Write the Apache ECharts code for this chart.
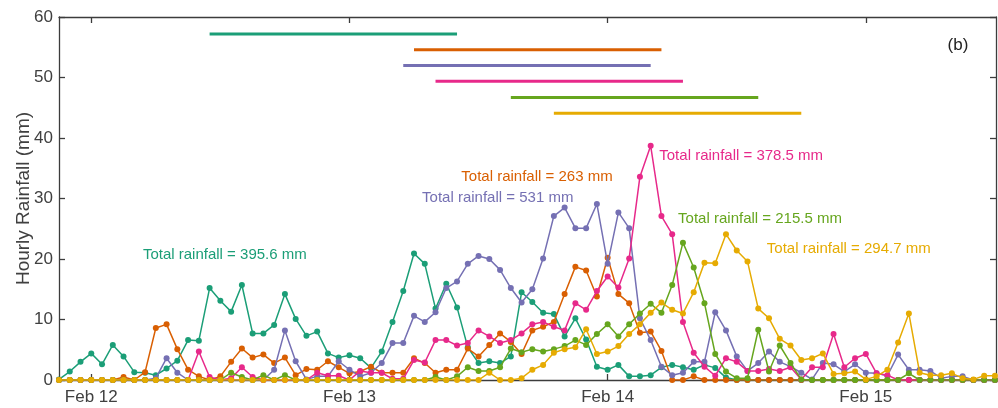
<!DOCTYPE html>
<html>
<head>
<meta charset="utf-8">
<script src="https://cdn.jsdelivr.net/npm/echarts@6/dist/echarts.min.js"></script>
<style>
html,body{margin:0;padding:0;background:#fff;}
#chart{width:998px;height:408px;}
</style>
</head>
<body>
<div id="chart"></div>
<script>
// Hours relative to Feb 12 00:00 (first reading at Feb 11 21:00)
const hourStart = -3;
const tickHours = [0, 24, 48, 72];
const tickLabels = ['Feb 12', 'Feb 13', 'Feb 14', 'Feb 15'];

const seriesNames = ['S1', 'S2', 'S3', 'S4', 'S5', 'S6'];
const colors = ['#1b9e77', '#d95f02', '#7570b3', '#e7298a', '#66a61e', '#e6ab02'];

const teal = [0.1,1.4,3.0,4.4,2.6,5.8,3.9,1.3,1.2,0.8,1.9,3.2,6.6,6.5,
  15.2,13.1,11.3,15.7,7.7,7.7,9.1,14.2,10.1,7.3,8.0,4.4,3.7,4.1,3.6,2.0,
  4.7,9.6,14.7,20.9,19.2,11.8,15.9,12.0,5.4,2.8,3.1,2.8,3.9,14.5,
  12.9,11.1,10.9,7.2,10.2,6.7,2.2,1.7,2.5,0.6,0.6,0.8,2.1,2.5,2.1,1.7,2.5,2.0,0.4,
  0,0,0,0,0,0,0,0,0,0,0,0,0,0,0,0,0,0,0,0,0,0,0,0,0];
const orange = [0,0,0,0,0,0,0.5,0,1.3,8.6,9.2,5.1,1.7,0.6,0,
  0.6,3.0,5.2,3.7,4.2,2.8,3.7,0.8,1.8,1.7,3.1,2.1,1.1,1.4,2.2,
  1.2,1.2,1.2,3.6,2.8,1.2,1.7,1.7,5.2,3.9,5.8,7.7,6.3,4.3,
  8.2,8.8,9.6,14.2,18.7,18.1,13.8,20.2,14.2,12.7,7.8,8.0,4.8,0,0,0.6,
  0,0,0,0,0,0,0,0,0,0,0,0,0,0,0,0,0,0,0,0,0,0,0,0,0,0,0,0];
const purple = [0,0,0,0,0,0,0,0,0,0.3,3.6,1.2,0,0,0,0,0,0,0,0,
  1.7,8.2,3.1,0.1,0.6,0.6,3.1,1.7,0.6,1.2,
  2.8,6.1,6.1,10.6,9.6,11.2,15.2,16.3,19.2,20.5,20.0,18.2,15.2,12.8,
  15.0,20.1,27.1,28.5,25.1,25.1,29.1,19.2,27.7,25.1,
  10.2,6.6,2.2,0.8,1.2,3.0,3.0,11.2,8.2,3.9,1.5,2.8,4.7,3.0,2.2,1.2,0.1,2.8,
  2.6,1.4,2.6,1.2,1.1,0.7,4.2,1.7,1.7,1.5,0.3,0.6,0.6,0,0,0];
const pink = [0,0,0,0,0,0,0,0,0,0,0,0,0,4.7,0.5,0,0.3,2.1,0.5,0,0,0,0,0,
  1.2,0.7,0.7,0,1.5,1.2,1.2,0.2,0.2,3.3,2.9,6.6,6.6,5.7,6.1,8.2,7.2,6.1,6.6,7.7,
  9.2,9.6,8.8,8.2,12.7,11.6,14.7,17.1,15.3,20.1,33.6,38.7,27.1,24.1,9.6,4.5,
  2.2,0.7,3.6,3.0,1.5,1.5,1.8,1.5,2.1,0.1,2.1,2.1,7.6,2.1,3.6,4.3,1.1,0.8,
  0,0,0,0,0,0,0,0,0,0];
const green = [0,0,0,0,0,0,0,0,0,0,0,0,0,0,0,0,1.2,0.5,0,0.8,0,0.8,
  0,0,0,0,0,0,0,0,0,0,0,0,0,0.5,0,0.6,2.1,1.5,1.5,2.1,5.2,4.6,
  5.1,4.7,5.1,5.6,6.6,5.8,7.6,9.2,7.2,9.2,11.0,12.6,11.1,15.7,22.7,18.6,12.7,4.3,1.4,
  0.3,0.3,8.3,1.4,5.7,2.8,0.1,0,0,0,0,0,0,0,0,0,1.1,0,0,0,0,0,0,0,0];
const yellow = [0,0,0,0,0,0,0,0,0,0,0,0,0,0,0,0,0,0,0,0,0,0,0,0,0,0,0,0,0,0,
  0,0,0,0,0,0,0,0,0,0,1.2,0,0,0.3,1.7,2.5,4.5,5.1,5.4,8.4,4.3,4.7,5.6,7.6,
  9.2,11.1,12.8,11.6,11.0,14.5,19.4,19.3,24.1,21.4,19.6,11.8,10.2,6.8,5.7,3.3,3.6,4.4,
  1.0,1.1,1.4,0.1,0.6,1.7,6.2,11.0,1.2,0.8,0.8,1.1,0.3,0.1,0.7,0.7];

// Duration bars (hours) and their levels (mm)
const barStart = [11, 30, 29, 32, 39, 43];
const barEnd = [34, 53, 52, 55, 62, 66];
const barLevel = [57.2, 54.6, 52.0, 49.4, 46.7, 44.1];

const totalLabels = ['Total rainfall = 395.6 mm', 'Total rainfall = 263 mm', 'Total rainfall = 531 mm',
  'Total rainfall = 378.5 mm', 'Total rainfall = 215.5 mm', 'Total rainfall = 294.7 mm'];
</script>
<script>
const values = [teal, orange, purple, pink, green, yellow];
const labelAnchors = [[4.8, 20.7], [34.4, 33.5], [30.75, 30.1], [52.8, 37.0], [54.55, 26.7], [62.8, 21.6]];
const panelAnchor = [79.6, 55.4];

const chart = echarts.init(document.getElementById('chart'), null, {renderer: 'canvas'});
const axisColor = '#3c3c3c';
const textColor = '#404040';
const font = '"Liberation Sans", Arial, sans-serif';
const xMin = -3, xMax = 84.1;

const series = [];
values.forEach((arr, i) => {
  series.push({
    name: seriesNames[i], type: 'line', xAxisIndex: 0, yAxisIndex: 0,
    data: arr.map((v, k) => [hourStart + k, v]),
    symbol: 'circle', symbolSize: 6, showSymbol: true,
    lineStyle: {color: colors[i], width: 1.5},
    itemStyle: {color: colors[i]},
    z: 2 + i, silent: true
  });
});
barStart.forEach((s, i) => {
  series.push({
    type: 'line', xAxisIndex: 0, yAxisIndex: 0,
    data: [[s, barLevel[i]], [barEnd[i], barLevel[i]]],
    symbol: 'none', lineStyle: {color: colors[i], width: 3}, z: 10, silent: true
  });
});

const option = {
  animation: false,
  backgroundColor: '#fff',
  grid: {left: 59, right: 2, top: 17, bottom: 28, containLabel: false, outerBoundsMode: 'none'},
  xAxis: [{
    type: 'value', min: xMin, max: xMax, position: 'bottom',
    axisLine: {show: true, onZero: false, lineStyle: {color: axisColor, width: 1.3}},
    axisTick: {show: true, inside: true, length: 6, customValues: tickHours, lineStyle: {color: axisColor, width: 1.3}},
    axisLabel: {customValues: tickHours, formatter: v => tickLabels[tickHours.indexOf(v)] || '',
      fontSize: 17, color: textColor, fontFamily: font, margin: 9},
    splitLine: {show: false}
  }, {
    type: 'value', min: xMin, max: xMax, position: 'top',
    axisLine: {show: true, onZero: false, lineStyle: {color: axisColor, width: 1.3}},
    axisTick: {show: true, inside: true, length: 6, customValues: tickHours, lineStyle: {color: axisColor, width: 1.3}},
    axisLabel: {show: false},
    splitLine: {show: false}
  }],
  yAxis: [{
    type: 'value', min: 0, max: 60, interval: 10, position: 'left',
    axisLine: {show: true, onZero: false, lineStyle: {color: axisColor, width: 1.3}},
    axisTick: {show: true, inside: true, length: 6, lineStyle: {color: axisColor, width: 1.3}},
    axisLabel: {fontSize: 17, color: textColor, fontFamily: font, margin: 6},
    splitLine: {show: false},
    name: 'Hourly Rainfall (mm)', nameLocation: 'middle', nameGap: 26, nameMoveOverlap: false,
    nameTextStyle: {fontSize: 19, color: textColor, fontFamily: font}
  }, {
    type: 'value', min: 0, max: 60, interval: 10, position: 'right',
    axisLine: {show: true, onZero: false, lineStyle: {color: axisColor, width: 1.3}},
    axisTick: {show: true, inside: true, length: 6, lineStyle: {color: axisColor, width: 1.3}},
    axisLabel: {show: false},
    splitLine: {show: false}
  }],
  series: series
};
chart.setOption(option);

const graphics = labelAnchors.map((p, i) => {
  const px = chart.convertToPixel({gridIndex: 0}, p);
  return {type: 'text', x: px[0], y: px[1], z: 100,
    style: {text: totalLabels[i], fill: colors[i], font: '15px ' + font, textAlign: 'left', textVerticalAlign: 'middle'}};
});
const pb = chart.convertToPixel({gridIndex: 0}, panelAnchor);
graphics.push({type: 'text', x: pb[0], y: pb[1], z: 100,
  style: {text: '(b)', fill: '#222', font: '17px ' + font, textAlign: 'left', textVerticalAlign: 'middle'}});
chart.setOption({graphic: graphics});
</script>
</body>
</html>
